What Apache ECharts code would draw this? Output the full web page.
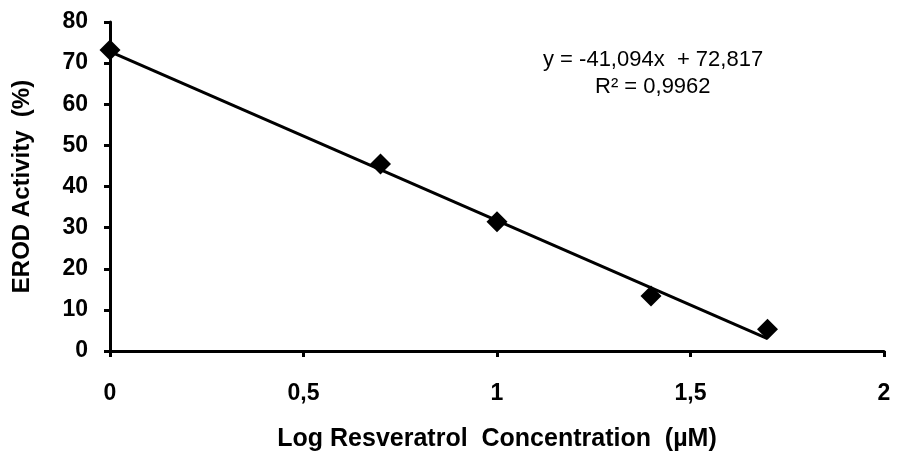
<!DOCTYPE html>
<html>
<head>
    <meta charset="utf-8">
    <title>EROD Activity</title>
    <script src="https://cdn.jsdelivr.net/npm/echarts@6/dist/echarts.min.js"></script>
    <style>
        html, body { margin: 0; padding: 0; background: #fff; }
        #main { width: 900px; height: 458px; }
    </style>
</head>
<body>
<div id="main"></div>
<script>
    // log concentration vs activity
    var logConc = [0, 0.699, 1, 1.398, 1.699];
    var activity = [73.2, 45.5, 31.4, 13.4, 5.3];
    // trendline end points (y = -41,094x + 72,817)
    var trendX = [0, 1.699];
    var trendY = [72.817, 2.997];

    var font = 'Liberation Sans, Arial, sans-serif';
    var pts = logConc.map(function (x, i) { return [x, activity[i]]; });
    var trend = trendX.map(function (x, i) { return [x, trendY[i]]; });

    var myChart = echarts.init(document.getElementById('main'));
    myChart.setOption({
        animation: false,
        backgroundColor: '#fff',
        grid: { left: 110, right: 16, top: 22, bottom: 107, containLabel: false, outerBoundsMode: 'none' },
        xAxis: {
            type: 'value', min: 0, max: 2, interval: 0.5,
            name: 'Log Resveratrol  Concentration  (µM)',
            nameLocation: 'middle', nameGap: 76,
            nameTextStyle: { color: '#000', fontFamily: font, fontWeight: 'bold', fontSize: 25 },
            axisLine: { lineStyle: { color: '#000', width: 3 } },
            axisTick: { show: true, length: 6, lineStyle: { color: '#000', width: 3 } },
            axisLabel: {
                color: '#000', fontFamily: font, fontWeight: 'bold', fontSize: 23, margin: 31,
                formatter: function (v) { return String(v).replace('.', ','); }
            },
            splitLine: { show: false }
        },
        yAxis: {
            type: 'value', min: 0, max: 80, interval: 10,
            name: 'EROD Activity  (%)',
            nameLocation: 'middle', nameGap: 76,
            nameTextStyle: { color: '#000', fontFamily: font, fontWeight: 'bold', fontSize: 24 },
            axisLine: { show: true, lineStyle: { color: '#000', width: 3 } },
            axisTick: { show: true, length: 6, lineStyle: { color: '#000', width: 3 } },
            axisLabel: { color: '#000', fontFamily: font, fontWeight: 'bold', fontSize: 23, margin: 22 },
            splitLine: { show: false }
        },
        graphic: [
            {
                type: 'text', left: 543, top: 49,
                style: { text: 'y = -41,094x  + 72,817', fill: '#000', font: '22px ' + font }
            },
            {
                type: 'text', left: 595, top: 76,
                style: { text: 'R² = 0,9962', fill: '#000', font: '22px ' + font }
            }
        ],
        series: [
            {
                type: 'line', data: trend, symbol: 'none',
                lineStyle: { color: '#000', width: 3 }, z: 2
            },
            {
                type: 'scatter', data: pts, symbol: 'diamond', symbolSize: 21,
                itemStyle: { color: '#000', opacity: 1 }, z: 3
            }
        ]
    });
</script>
</body>
</html>
